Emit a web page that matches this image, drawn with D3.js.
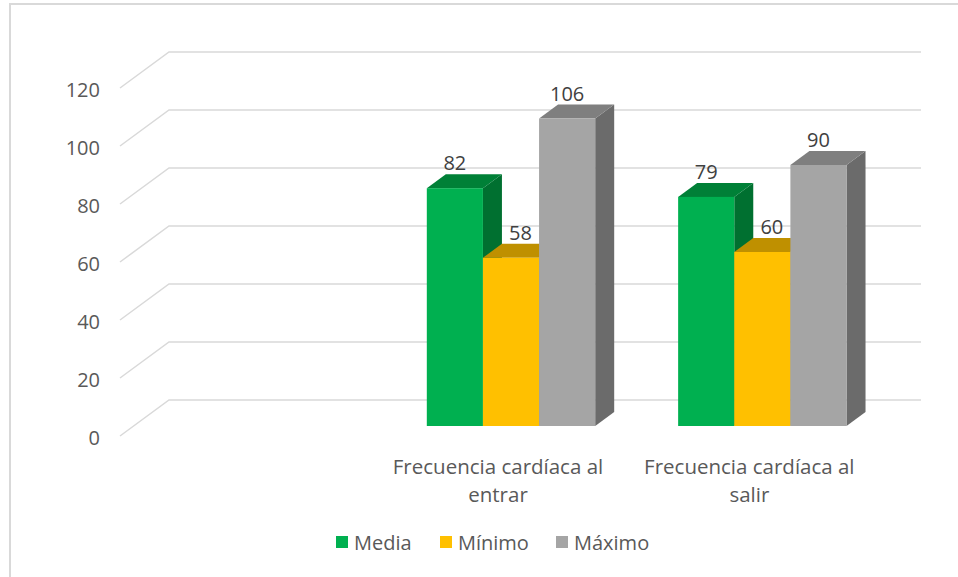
<!DOCTYPE html>
<html>
<head>
<meta charset="utf-8">
<script src="https://cdn.jsdelivr.net/npm/d3@7"></script>
<style>
    body { margin: 0; background: #fff; }
    text { font-family: "Open Sans", sans-serif; }
</style>
</head>
<body>
<svg id="chart" width="958" height="577"></svg>
<script>
// data
let categories = ["", "Frecuencia cardíaca al entrar", "Frecuencia cardíaca al salir"];
let seriesNames = ["Media", "Mínimo", "Máximo"];
let media = [null, 82, 79];
let minimo = [null, 58, 60];
let maximo = [null, 106, 90];
let yTicks = [0, 20, 40, 60, 80, 100, 120];

let seriesValues = [media, minimo, maximo];
let colors = {
    "Media":  {front: "#00b050", top: "#008037", side: "#007030"},
    "Mínimo": {front: "#ffc000", top: "#bf9000", side: "#a67d00"},
    "Máximo": {front: "#a5a5a5", top: "#7f7f7f", side: "#6b6b6b"}
};

let svg = d3.select("#chart");

// 3d offsets
let wall = {"dx": 49, "dy": -36};     // floor front -> back wall
let bar = {"dx": 19, "dy": -14};      // bar depth
let barShift = {"dx": 13, "dy": -10}; // floor front -> bar front face

let y = d3.scaleLinear()
    .domain([0, 120])
    .range([426, 78]);

let x = d3.scaleBand()
    .domain(categories)
    .range([134, 888])
    .paddingInner(0.33)
    .paddingOuter(0.165);

let xSeries = d3.scaleBand()
    .domain(seriesNames)
    .range([0, x.bandwidth()]);

// chart border (only top and left visible)
svg.append("rect")
    .attr("x", 10).attr("y", 4)
    .attr("width", 1000).attr("height", 700)
    .attr("fill", "#fff")
    .attr("stroke", "#d9d9d9")
    .attr("stroke-width", 2);

let x0 = 120;
let xEnd = 921;

// gridlines: floor-front diagonal then back wall
svg.append("g").selectAll("path")
    .data(yTicks)
    .enter()
    .append("path")
    .attr("d", function(v){
        let yf = y(v) - barShift.dy;
        return "M" + x0 + "," + yf +
            "L" + (x0 + wall.dx) + "," + (yf + wall.dy) +
            "L" + xEnd + "," + (yf + wall.dy);
    })
    .attr("fill", "none")
    .attr("stroke", "#d9d9d9")
    .attr("stroke-width", 1.5);

// y labels
svg.append("g").selectAll("text")
    .data(yTicks)
    .enter()
    .append("text")
    .attr("x", 100)
    .attr("y", v => y(v) - barShift.dy + 2)
    .attr("dy", "0.35em")
    .attr("text-anchor", "end")
    .attr("font-size", 20)
    .attr("fill", "#595959")
    .text(v => v);

// bars
let barData = [];
categories.forEach(function(c, ci){
    seriesNames.forEach(function(s, si){
        let v = seriesValues[si][ci];
        if(v != null)
            barData.push({"cat": c, "series": s, "value": v});
    });
});

let bars = svg.append("g").selectAll("g")
    .data(barData)
    .enter()
    .append("g");

function poly(pts){
    return "M" + pts.map(p => p.join(",")).join("L") + "Z";
}

bars.each(function(d){
    let g = d3.select(this);
    let xl = x(d.cat) + xSeries(d.series);
    let xr = xl + xSeries.bandwidth();
    let yt = y(d.value);
    let yb = y(0);
    let col = colors[d.series];

    // side
    g.append("path")
        .attr("d", poly([[xr, yt], [xr + bar.dx, yt + bar.dy], [xr + bar.dx, yb + bar.dy], [xr, yb]]))
        .attr("fill", col.side);
    // top
    g.append("path")
        .attr("d", poly([[xl, yt], [xr, yt], [xr + bar.dx, yt + bar.dy], [xl + bar.dx, yt + bar.dy]]))
        .attr("fill", col.top);
    // front
    g.append("rect")
        .attr("x", xl)
        .attr("y", yt)
        .attr("width", xr - xl)
        .attr("height", yb - yt)
        .attr("fill", col.front);
});

// data labels (middle series nudged right, clear of the green side face)
svg.append("g").selectAll("text")
    .data(barData)
    .enter()
    .append("text")
    .attr("x", function(d){
        let cx = x(d.cat) + xSeries(d.series) + xSeries.bandwidth() / 2;
        if(d.series == "Mínimo")
            cx += bar.dx / 2;
        return cx;
    })
    .attr("y", d => y(d.value) - 18)
    .attr("text-anchor", "middle")
    .attr("font-size", 20)
    .attr("fill", "#404040")
    .text(d => d.value);

// category labels, wrapped
let catLabels = svg.append("g").selectAll("text")
    .data(categories.filter(c => c !== ""))
    .enter()
    .append("text")
    .attr("text-anchor", "middle")
    .attr("font-size", 20.5)
    .attr("fill", "#595959");

catLabels.each(function(c){
    let t = d3.select(this);
    let cx = x(c) + x.bandwidth() / 2 - barShift.dx;
    let words = c.split(" ");
    let lines = [];
    let line = [];
    let tspan = t.append("tspan");
    words.forEach(function(w){
        line.push(w);
        tspan.text(line.join(" "));
        if(tspan.node().getComputedTextLength() > x.step() - 10 && line.length > 1){
            line.pop();
            lines.push(line.join(" "));
            line = [w];
        }
    });
    lines.push(line.join(" "));
    tspan.remove();
    lines.forEach(function(l, i){
        t.append("tspan")
            .attr("x", cx)
            .attr("y", 474 + i * 28)
            .text(l);
    });
});

// legend
let legend = svg.append("g");
let lx = [336, 440, 556];
seriesNames.forEach(function(s, i){
    legend.append("rect")
        .attr("x", lx[i])
        .attr("y", 536)
        .attr("width", 12)
        .attr("height", 12)
        .attr("fill", colors[s].front);
    legend.append("text")
        .attr("x", lx[i] + 18)
        .attr("y", 543)
        .attr("dy", "0.35em")
        .attr("font-size", 20)
        .attr("fill", "#595959")
        .text(s);
});
</script>
</body>
</html>
